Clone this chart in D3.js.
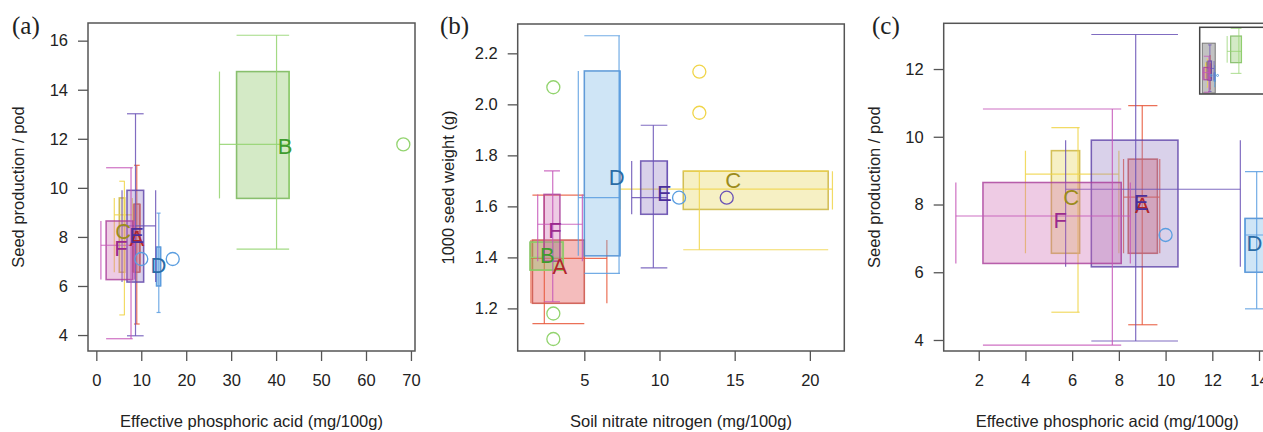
<!DOCTYPE html>
<html>
<head>
<meta charset="utf-8">
<script src="https://cdn.jsdelivr.net/npm/d3@7"></script>
<style>
  body { margin: 0; background: #fff; }
  svg text { font-family: "Liberation Sans", Arial, sans-serif; }
</style>
</head>
<body>
<svg id="chart" width="1263" height="432"></svg>
<script>
var groups = ["A", "B", "C", "D", "E", "F"];

// effective phosphoric acid (x) vs seed production / pod (y) -- panels (a) and (c)
// each row: [low whisker, Q1, median, Q3, high whisker]
var phosX = [
  [8.2, 8.4, 9.0, 9.65, 9.75],
  [27.4, 31.2, 40.1, 42.9, 42.9],
  [4.0, 5.11, 6.25, 6.32, 8.0],
  [13.4, 13.4, 13.9, 14.3, 14.3],
  [5.72, 6.82, 8.72, 10.53, 13.2],
  [1.02, 2.18, 7.72, 8.1, 8.49]
];
var podY = [
  [4.45, 6.56, 8.22, 9.34, 10.92],
  [7.5, 9.57, 11.77, 14.74, 16.22],
  [4.82, 6.56, 8.9, 9.59, 10.27],
  [4.92, 6.0, 7.1, 7.59, 8.97],
  [3.97, 6.16, 8.45, 9.9, 13.02],
  [3.85, 6.26, 7.66, 8.65, 10.82]
];
var phosMean = [[9.0, 7.97], [42.0, 11.72], [5.96, 8.23], [13.8, 6.85], [8.95, 8.08], [5.49, 7.54]];
// [x, y, group index]
var phosOutliers = [[68.3, 11.77, 1], [10.0, 7.1, 3], [17.0, 7.1, 3]];

// soil nitrate nitrogen (x) vs 1000 seed weight (y) -- panel (b)
var nitroX = [
  [1.45, 1.55, 2.34, 5.0, 6.5],
  [1.39, 1.39, 2.94, 3.6, 3.6],
  [7.37, 11.58, 12.65, 21.22, 21.5],
  [4.6, 5.0, 7.31, 7.37, 7.37],
  [8.15, 8.75, 9.59, 10.52, 10.52],
  [1.9, 2.32, 2.9, 3.38, 4.87]
];
var weightY = [
  [1.14, 1.22, 1.396, 1.468, 1.644],
  [1.35, 1.35, 1.40, 1.46, 1.46],
  [1.43, 1.588, 1.668, 1.738, 1.738],
  [1.337, 1.406, 1.634, 2.131, 2.269],
  [1.359, 1.569, 1.634, 1.778, 1.918],
  [1.226, 1.385, 1.53, 1.647, 1.739]
];
var nitroMean = [[3.38, 1.366], [2.54, 1.409], [14.9, 1.703], [7.15, 1.716], [10.32, 1.653], [3.05, 1.507]];
var nitroOutliers = [
  [2.94, 2.067, 1], [2.94, 1.18, 1], [2.94, 1.08, 1],
  [12.65, 2.128, 2], [12.65, 1.967, 2],
  [11.3, 1.634, 3], [14.47, 1.634, 4]
];

// tick labels
var phosTicks = [0, 10, 20, 30, 40, 50, 60, 70];
var podTicks = [4, 6, 8, 10, 12, 14, 16];
var nitroTicks = [5, 10, 15, 20];
var weightTicks = [1.2, 1.4, 1.6, 1.8, 2.0, 2.2];
var zoomPhosTicks = [2, 4, 6, 8, 10, 12, 14];
var zoomPodTicks = [4, 6, 8, 10, 12];

// colours per group
var lineColors = ["#e8573a", "#93d46f", "#f0d54a", "#5b9ee0", "#6a52b6", "#c657b8"];
var boxStrokes = ["#c8463a", "#6fb24f", "#c9b136", "#4186cf", "#5a3ea6", "#a83c98"];
var boxFills = ["#e0403f", "#84c35c", "#e5d456", "#76b5e5", "#927cc3", "#ce6ab2"];
var letterColors = ["#b3262a", "#3e9c2e", "#9c8c1c", "#2b6ca6", "#4b2e9a", "#9a2a8e"];

var svg = d3.select("#chart");
var axisColor = "#555";
var textColor = "#222";

function drawGroup(g, x, y, xs, ys, i, lw) {
  g.append("rect")
    .attr("x", x(xs[1]))
    .attr("y", y(ys[3]))
    .attr("width", x(xs[3]) - x(xs[1]))
    .attr("height", y(ys[1]) - y(ys[3]))
    .attr("fill", boxFills[i])
    .attr("fill-opacity", 0.35)
    .attr("stroke", boxStrokes[i])
    .attr("stroke-opacity", 0.8)
    .attr("stroke-width", lw * 1.3);

  // whisker through the x median, with caps spanning the x quartiles,
  // and whisker through the y median, with caps spanning the y quartiles
  var segs = [
    [xs[2], ys[0], xs[2], ys[4]],
    [xs[1], ys[0], xs[3], ys[0]],
    [xs[1], ys[4], xs[3], ys[4]],
    [xs[0], ys[2], xs[4], ys[2]],
    [xs[0], ys[1], xs[0], ys[3]],
    [xs[4], ys[1], xs[4], ys[3]]
  ];
  g.selectAll(null)
    .data(segs)
    .enter().append("line")
    .attr("x1", function (d) { return x(d[0]); })
    .attr("y1", function (d) { return y(d[1]); })
    .attr("x2", function (d) { return x(d[2]); })
    .attr("y2", function (d) { return y(d[3]); })
    .attr("stroke", lineColors[i])
    .attr("stroke-opacity", 0.85)
    .attr("stroke-width", lw);
}

function drawMarks(g, x, y, xData, yData, means, outliers, lw, radius, showLetters) {
  groups.forEach(function (name, i) {
    drawGroup(g, x, y, xData[i], yData[i], i, lw);
  });

  g.selectAll(null)
    .data(outliers)
    .enter().append("circle")
    .attr("cx", function (d) { return x(d[0]); })
    .attr("cy", function (d) { return y(d[1]); })
    .attr("r", radius)
    .attr("fill", "none")
    .attr("stroke", function (d) { return lineColors[d[2]]; })
    .attr("stroke-width", lw * 1.1);

  if (showLetters) {
    g.selectAll(null)
      .data(groups)
      .enter().append("text")
      .attr("x", function (d, i) { return x(means[i][0]); })
      .attr("y", function (d, i) { return y(means[i][1]); })
      .attr("dy", "0.36em")
      .attr("text-anchor", "middle")
      .style("font-size", "22px")
      .style("fill", function (d, i) { return letterColors[i]; })
      .text(function (d) { return d; });
  }
}

function drawPanel(p) {
  var x = d3.scaleLinear().domain(p.xDomain).range([p.left, p.right]);
  var y = d3.scaleLinear().domain(p.yDomain).range([p.bottom, p.top]);
  var panel = svg.append("g");

  var clipId = "clip-" + p.label;
  panel.append("clipPath").attr("id", clipId)
    .append("rect")
    .attr("x", p.left).attr("y", p.top)
    .attr("width", p.right - p.left).attr("height", p.bottom - p.top);

  var marks = panel.append("g").attr("clip-path", "url(#" + clipId + ")");
  drawMarks(marks, x, y, p.xData, p.yData, p.means, p.outliers, 1.2, 6.5, true);

  if (p.inset) {
    drawInset(marks, p);
  }

  // axes
  var xAxis = panel.append("g")
    .attr("transform", "translate(0," + p.bottom + ")")
    .call(d3.axisBottom(x).tickValues(p.xTicks).tickSize(10).tickSizeOuter(0).tickPadding(13));
  var yAxis = panel.append("g")
    .attr("transform", "translate(" + p.left + ",0)")
    .call(d3.axisLeft(y).tickValues(p.yTicks).tickSize(10).tickSizeOuter(0).tickPadding(10)
      .tickFormat(p.yFormat || null));

  [xAxis, yAxis].forEach(function (a) {
    a.select(".domain").remove();
    a.selectAll(".tick line").attr("stroke", axisColor).attr("stroke-width", 1.3);
    a.selectAll(".tick text")
      .style("font-family", '"Liberation Sans", Arial, sans-serif')
      .style("font-size", "16.5px")
      .style("fill", textColor);
  });

  // frame
  panel.append("rect")
    .attr("x", p.left).attr("y", p.top)
    .attr("width", p.right - p.left).attr("height", p.bottom - p.top)
    .attr("fill", "none")
    .attr("stroke", axisColor)
    .attr("stroke-width", 1.5);

  // titles
  panel.append("text")
    .attr("x", (p.left + p.right) / 2)
    .attr("y", 427)
    .attr("text-anchor", "middle")
    .style("font-size", "16.5px")
    .style("fill", textColor)
    .text(p.xTitle);

  panel.append("text")
    .attr("transform", "translate(" + (p.left - 64) + "," + ((p.top + p.bottom) / 2) + ") rotate(-90)")
    .attr("text-anchor", "middle")
    .style("font-size", "16.5px")
    .style("fill", textColor)
    .text(p.yTitle);

  panel.append("text")
    .attr("x", p.labelX)
    .attr("y", 34)
    .style("font-family", '"Liberation Serif", "Times New Roman", serif')
    .style("font-size", "25px")
    .style("fill", textColor)
    .text("(" + p.label + ")");
}

// small overview of the full data range in the corner of panel (c)
function drawInset(g, p) {
  var left = 1199.7, top = 27.3, bottom = 94;
  var ix = d3.scaleLinear().domain([-2.3, 72]).range([left, left + 74.3 * 0.924]);
  var iy = d3.scaleLinear().domain([3.5, 16.43]).range([bottom, top]);

  g.append("rect")
    .attr("x", left).attr("y", top)
    .attr("width", 80).attr("height", bottom - top)
    .attr("fill", "#fff");

  g.append("rect")
    .attr("x", ix(p.xDomain[0])).attr("y", iy(p.yDomain[1]))
    .attr("width", ix(p.xDomain[1]) - ix(p.xDomain[0]))
    .attr("height", iy(p.yDomain[0]) - iy(p.yDomain[1]))
    .attr("fill", "#9a9a9a")
    .attr("fill-opacity", 0.6)
    .attr("stroke", "#777")
    .attr("stroke-width", 1);

  drawMarks(g, ix, iy, p.xData, p.yData, p.means, p.outliers, 0.9, 1, false);

  g.append("rect")
    .attr("x", left).attr("y", top)
    .attr("width", 80).attr("height", bottom - top)
    .attr("fill", "none")
    .attr("stroke", "#444")
    .attr("stroke-width", 1.5);
}

drawPanel({
  label: "a", labelX: 12,
  left: 88, right: 415, top: 23, bottom: 351,
  xDomain: [-1.85, 70.9], yDomain: [3.35, 16.72],
  xTicks: phosTicks, yTicks: podTicks,
  xData: phosX, yData: podY, means: phosMean, outliers: phosOutliers,
  xTitle: "Effective phosphoric acid (mg/100g)",
  yTitle: "Seed production / pod"
});

drawPanel({
  label: "b", labelX: 440,
  left: 517.7, right: 844.3, top: 24, bottom: 351,
  xDomain: [0.57, 22.29], yDomain: [1.033, 2.315],
  xTicks: nitroTicks, yTicks: weightTicks, yFormat: d3.format(".1f"),
  xData: nitroX, yData: weightY, means: nitroMean, outliers: nitroOutliers,
  xTitle: "Soil nitrate nitrogen (mg/100g)",
  yTitle: "1000 seed weight (g)"
});

drawPanel({
  label: "c", labelX: 872,
  left: 943.7, right: 1270.7, top: 23.3, bottom: 351,
  xDomain: [0.5, 14.5], yDomain: [3.675, 13.35],
  xTicks: zoomPhosTicks, yTicks: zoomPodTicks,
  xData: phosX, yData: podY, means: phosMean, outliers: phosOutliers,
  xTitle: "Effective phosphoric acid (mg/100g)",
  yTitle: "Seed production / pod",
  inset: true
});
</script>
</body>
</html>
